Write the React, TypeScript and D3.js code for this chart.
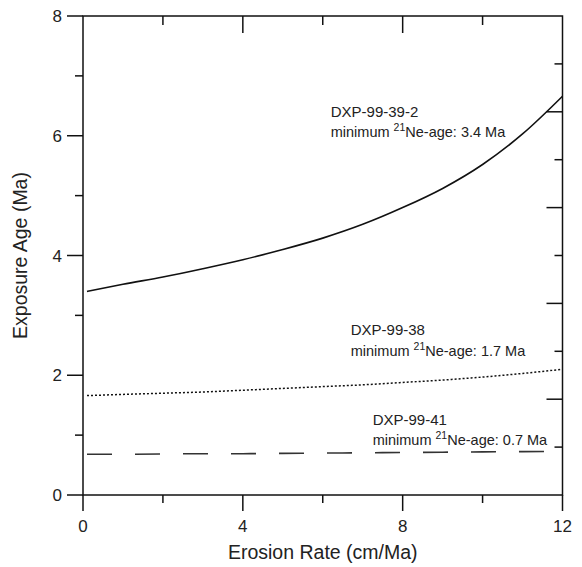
import React from "react";
import * as d3 from "d3";

// erosion rate (cm/Ma) sample points
const erosion = [0.1, 1, 2, 3, 4, 5, 6, 7, 8, 9, 10, 11, 12];
// exposure age (Ma) for each sample
const age39 = [3.4, 3.52, 3.64, 3.78, 3.93, 4.1, 4.29, 4.52, 4.8, 5.12, 5.52, 6.03, 6.66];
const age38 = [1.66, 1.68, 1.7, 1.72, 1.75, 1.78, 1.81, 1.84, 1.88, 1.92, 1.97, 2.03, 2.1];
const age41 = [0.68, 0.68, 0.685, 0.69, 0.69, 0.695, 0.7, 0.705, 0.71, 0.715, 0.72, 0.725, 0.73];

const xMajor = [0, 4, 8, 12];
const xMinor = [2, 6, 10];
const yMajor = [0, 2, 4, 6, 8];
const yMinor = [1, 3, 5, 7];
const rightTicks = [0.8, 1.6, 2.4, 3.2, 4.0, 4.8, 5.6, 6.4, 7.2];

const labels = [
  { name: "DXP-99-39-2", min: "3.4", x: 6.2, y: 6.32 },
  { name: "DXP-99-38", min: "1.7", x: 6.7, y: 2.67 },
  { name: "DXP-99-41", min: "0.7", x: 7.25, y: 1.17 },
];

const W = 582;
const H = 567;
const left = 83, right = 562.5, top = 16, bottom = 495;

export default function App() {
  const x = d3.scaleLinear().domain([0, 12]).range([left, right]);
  const y = d3.scaleLinear().domain([0, 8]).range([bottom, top]);

  const line = d3
    .line<number>()
    .x((_, i) => x(erosion[i]))
    .y((d) => y(d))
    .curve(d3.curveMonotoneX);

  const font = "'Liberation Sans', Arial, Helvetica, sans-serif";
  const stroke = "#111";

  return (
    <svg
      width={W}
      height={H}
      style={{ position: "absolute", left: 0, top: 0, background: "#fff" }}
      fontFamily={font}
    >
      {/* frame */}
      <rect x={left} y={top} width={right - left} height={bottom - top} fill="none" stroke={stroke} strokeWidth={1.5} />

      {/* left axis: outward ticks */}
      {yMajor.map((v) => (
        <g key={"ym" + v}>
          <line x1={left - 16} x2={left} y1={y(v)} y2={y(v)} stroke={stroke} strokeWidth={1.5} />
          <text x={left - 21} y={y(v)} dy="0.36em" textAnchor="end" fontSize={17} fill="#222">{v}</text>
        </g>
      ))}
      {yMinor.map((v) => (
        <line key={"yn" + v} x1={left - 8} x2={left} y1={y(v)} y2={y(v)} stroke={stroke} strokeWidth={1.5} />
      ))}

      {/* bottom axis: outward ticks */}
      {xMajor.map((v) => (
        <g key={"xm" + v}>
          <line x1={x(v)} x2={x(v)} y1={bottom} y2={bottom + 16} stroke={stroke} strokeWidth={1.5} />
          <text x={x(v)} y={bottom + 37} textAnchor="middle" fontSize={17} fill="#222">{v}</text>
        </g>
      ))}
      {xMinor.map((v) => (
        <line key={"xn" + v} x1={x(v)} x2={x(v)} y1={bottom} y2={bottom + 8} stroke={stroke} strokeWidth={1.5} />
      ))}

      {/* top axis: inward ticks */}
      {[4, 8].map((v) => (
        <line key={"tm" + v} x1={x(v)} x2={x(v)} y1={top} y2={top + 17} stroke={stroke} strokeWidth={1.5} />
      ))}
      {xMinor.map((v) => (
        <line key={"tn" + v} x1={x(v)} x2={x(v)} y1={top} y2={top + 9} stroke={stroke} strokeWidth={1.5} />
      ))}

      {/* right axis: inward ticks */}
      {rightTicks.map((v, i) => (
        <line key={"r" + v} x1={right - (i % 2 === 1 ? 16 : 8)} x2={right} y1={y(v)} y2={y(v)} stroke={stroke} strokeWidth={1.5} />
      ))}

      {/* curves */}
      <path d={line(age39) || ""} fill="none" stroke={stroke} strokeWidth={1.6} />
      <path d={line(age38) || ""} fill="none" stroke={stroke} strokeWidth={1.5} strokeDasharray="2 2" />
      <path d={line(age41) || ""} fill="none" stroke="#333" strokeWidth={1.6} strokeDasharray="25 23" />

      {/* annotations */}
      {labels.map((l) => (
        <g key={l.name} fill="#222">
          <text x={x(l.x)} y={y(l.y)} fontSize={15}>{l.name}</text>
          <text x={x(l.x)} y={y(l.y) + 20.5} fontSize={14.5}>
            minimum <tspan fontSize={10.5} dy={-6}>21</tspan>
            <tspan dy={6}>Ne-age: {l.min} Ma</tspan>
          </text>
        </g>
      ))}

      {/* axis titles */}
      <text x={(left + right) / 2} y={559} textAnchor="middle" fontSize={19.5} fill="#222">
        Erosion Rate (cm/Ma)
      </text>
      <text
        transform={`translate(27,${(top + bottom) / 2}) rotate(-90)`}
        textAnchor="middle"
        fontSize={19.5}
        fill="#222"
      >
        Exposure Age (Ma)
      </text>
    </svg>
  );
}
